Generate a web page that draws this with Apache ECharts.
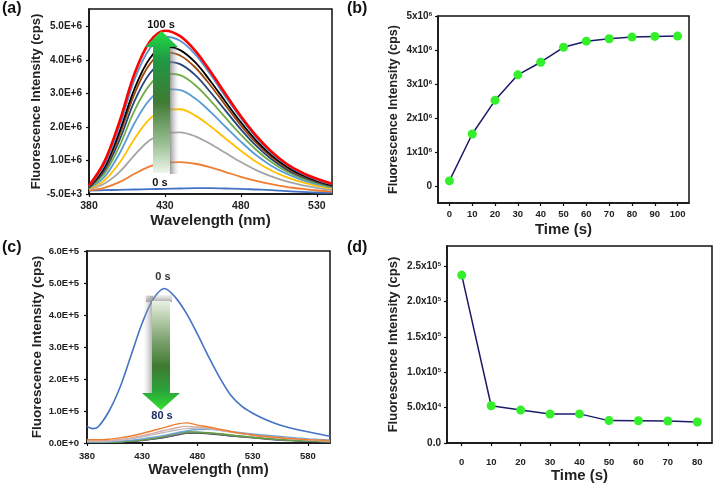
<!DOCTYPE html>
<html>
<head>
<meta charset="utf-8">
<script src="https://cdn.jsdelivr.net/npm/echarts@6/dist/echarts.min.js"></script>
<style>html,body{margin:0;padding:0;background:#fff}#c{width:715px;height:484px}</style>
</head>
<body>
<div id="c"></div>
<script>
// ---------- Panel (a): emission spectra, values in units of 1e6 cps ----------
const wlA = [380,390,400,410,420,430,440,450,460,470,480,490,500,510,520,530,540];
const a_0s   = [0.10,0.11,0.12,0.13,0.14,0.15,0.16,0.17,0.17,0.16,0.15,0.13,0.11,0.08,0.06,0.04,0.03];
const a_10s  = [0.10,0.18,0.35,0.60,0.82,0.93,0.95,0.90,0.79,0.65,0.51,0.39,0.29,0.21,0.15,0.10,0.07];
const a_20s  = [0.13,0.30,0.65,1.16,1.60,1.81,1.84,1.72,1.49,1.22,0.95,0.71,0.52,0.37,0.26,0.18,0.12];
const a_30s  = [0.15,0.40,0.92,1.65,2.24,2.52,2.53,2.34,2.02,1.65,1.29,0.96,0.70,0.50,0.35,0.24,0.16];
const a_40s  = [0.17,0.50,1.20,2.12,2.82,3.13,3.10,2.85,2.45,2.00,1.56,1.16,0.84,0.60,0.42,0.29,0.19];
const a_50s  = [0.18,0.60,1.42,2.50,3.26,3.60,3.55,3.25,2.79,2.27,1.77,1.32,0.95,0.67,0.47,0.32,0.21];
const a_60s  = [0.19,0.68,1.60,2.78,3.60,3.95,3.88,3.55,3.04,2.48,1.93,1.44,1.04,0.73,0.51,0.35,0.23];
const a_70s  = [0.20,0.74,1.75,3.00,3.88,4.23,4.14,3.78,3.24,2.64,2.05,1.53,1.11,0.78,0.54,0.37,0.25];
const a_80s  = [0.20,0.78,1.85,3.15,4.05,4.40,4.30,3.93,3.37,2.75,2.14,1.60,1.16,0.82,0.57,0.39,0.26];
const a_90s  = [0.22,0.85,2.00,3.42,4.35,4.70,4.58,4.17,3.57,2.90,2.26,1.69,1.23,0.87,0.61,0.42,0.28];
const a_100s = [0.25,0.95,2.15,3.60,4.55,4.88,4.72,4.28,3.66,2.98,2.32,1.74,1.27,0.90,0.64,0.45,0.30];
const aYTicks = [-0.005,1,2,3,4,5];
const aXTicks = [380,430,480,530];

// ---------- Panel (b): intensity vs time (cps) ----------
const timeB = [0,10,20,30,40,50,60,70,80,90,100];
const intensB = [150000,1530000,2520000,3270000,3640000,4080000,4260000,4330000,4380000,4400000,4410000];
const bYTicks = [0,1000000,2000000,3000000,4000000,5000000];
const bXTicks = [0,10,20,30,40,50,60,70,80,90,100];

// ---------- Panel (c): emission spectra, values in units of 1e5 cps ----------
const wlC = [380,385,390,400,410,420,430,440,450,460,470,480,490,500,510,520,530,540,550,560,570,580,590,600];
const c_0s  = [0.52,0.45,0.50,1.00,1.75,2.75,3.75,4.50,4.83,4.55,4.05,3.40,2.70,2.05,1.50,1.15,0.93,0.76,0.62,0.51,0.42,0.35,0.28,0.21];
const c_10s = [0.11,0.10,0.10,0.12,0.16,0.22,0.30,0.39,0.48,0.58,0.63,0.56,0.50,0.43,0.36,0.30,0.25,0.21,0.18,0.15,0.125,0.105,0.09,0.08];
const c_20s = [0.07,0.06,0.06,0.08,0.11,0.16,0.23,0.31,0.39,0.47,0.52,0.50,0.46,0.40,0.34,0.29,0.24,0.20,0.17,0.14,0.12,0.10,0.08,0.07];
const c_30s = [0.05,0.05,0.05,0.06,0.09,0.13,0.19,0.26,0.33,0.40,0.45,0.47,0.45,0.40,0.35,0.30,0.25,0.21,0.18,0.15,0.12,0.10,0.08,0.07];
const c_40s = [0.03,0.03,0.03,0.04,0.06,0.09,0.13,0.18,0.24,0.31,0.38,0.42,0.43,0.40,0.36,0.32,0.28,0.25,0.22,0.19,0.16,0.13,0.11,0.09];
const c_50s = [0.02,0.02,0.02,0.03,0.04,0.06,0.10,0.15,0.21,0.30,0.35,0.34,0.32,0.29,0.25,0.21,0.18,0.15,0.12,0.10,0.08,0.07,0.06,0.05];
const c_60s = [0.03,0.02,0.02,0.03,0.04,0.06,0.09,0.14,0.20,0.27,0.33,0.34,0.31,0.28,0.24,0.21,0.17,0.14,0.11,0.09,0.08,0.06,0.05,0.04];
const c_70s = [0.03,0.02,0.02,0.03,0.04,0.06,0.09,0.13,0.18,0.25,0.31,0.32,0.30,0.27,0.23,0.20,0.17,0.14,0.11,0.09,0.07,0.06,0.05,0.04];
const c_80s = [0.02,0.02,0.02,0.02,0.03,0.05,0.08,0.12,0.17,0.24,0.30,0.31,0.29,0.26,0.22,0.19,0.16,0.13,0.10,0.08,0.07,0.05,0.04,0.03];
const cYTicks = [0,1,2,3,4,5,6];
const cXTicks = [380,430,480,530,580];

// ---------- Panel (d): intensity vs time (cps) ----------
const timeD = [0,10,20,30,40,50,60,70,80];
const intensD = [237000,52700,46600,41000,41200,31700,31500,31200,29800];
const dYTicks = [0,50000,100000,150000,200000,250000];
const dXTicks = [0,10,20,30,40,50,60,70,80];

const FONT = 'Liberation Sans, Arial, sans-serif';
const pair = (xs, ys) => xs.map((x, i) => [x, ys[i]]);
function fmtE(v, unitExp) {
  const real = Math.round(v * Math.pow(10, unitExp));
  if (real === 0) return '0.0E+0';
  const ex = Math.floor(Math.log10(Math.abs(real)));
  const m = real / Math.pow(10, ex);
  return m.toFixed(1) + 'E' + (ex >= 0 ? '+' : '-') + Math.abs(ex);
}
const supRich = {
  m: {fontSize: 10, fontWeight: 'bold', color: '#222', fontFamily: FONT},
  s: {fontSize: 6, fontWeight: 'bold', color: '#222', fontFamily: FONT, verticalAlign: 'top'}
};
function fmtSupB(v) {
  if (v === 0) return '{m|0}';
  return '{m|' + (v / 1e6) + 'x10}{s|6}';
}
function fmtSupD(v) {
  if (v === 0) return '{m|0.0}';
  const ex = Math.floor(Math.log10(v) + 1e-9);
  return '{m|' + (v / Math.pow(10, ex)).toFixed(1) + 'x10}{s|' + ex + '}';
}

const gridBase = {show: true, borderColor: '#111', borderWidth: 1.5, backgroundColor: 'transparent'};
const axLine = {show: true, onZero: false, lineStyle: {color: '#111', width: 1.5}};
const nameStyleBig = {fontFamily: FONT, fontWeight: 'bold', color: '#222'};

function valueAxis(idx, opts) {
  return Object.assign({
    type: 'value', gridIndex: idx, splitLine: {show: false},
    axisLine: axLine,
    nameLocation: 'middle'
  }, opts);
}

const chart = echarts.init(document.getElementById('c'), null, {renderer: 'canvas'});

const aColors = ['#4472c4','#ed7d31','#a5a5a5','#ffc000','#5b9bd5','#70ad47','#264478','#9e480e','#000000','#5a8fd0','#ff0000'];
const aSets = [a_0s,a_10s,a_20s,a_30s,a_40s,a_50s,a_60s,a_70s,a_80s,a_90s,a_100s];
const cColors = ['#4472c4','#ed7d31','#d9aca4','#bdbdbd','#6fa6d8','#5f9e3c','#8a8a8a','#5a5a5a','#44546a'];
const cSets = [c_0s,c_10s,c_20s,c_30s,c_40s,c_50s,c_60s,c_70s,c_80s];

const series = [];
aSets.forEach((d, i) => series.push({
  type: 'line', xAxisIndex: 0, yAxisIndex: 0, data: pair(wlA, d), smooth: 0.35,
  showSymbol: false, lineStyle: {color: aColors[i], width: i === 10 ? 2.6 : 1.8}, z: 2 + i
}));
series.push({
  type: 'line', xAxisIndex: 1, yAxisIndex: 1, data: pair(timeB, intensB),
  symbol: 'circle', symbolSize: 9, lineStyle: {color: '#1b1b6b', width: 1.5},
  itemStyle: {color: '#33f02a', borderWidth: 0}, z: 5
});
cSets.forEach((d, i) => series.push({
  type: 'line', xAxisIndex: 2, yAxisIndex: 2, data: pair(wlC, d), smooth: 0.35,
  showSymbol: false, lineStyle: {color: cColors[i], width: i === 0 ? 1.6 : 1.4}, z: 12 - i
}));
series.push({
  type: 'line', xAxisIndex: 3, yAxisIndex: 3, data: pair(timeD, intensD),
  symbol: 'circle', symbolSize: 9, lineStyle: {color: '#1b1b6b', width: 1.5},
  itemStyle: {color: '#33f02a', borderWidth: 0}, z: 5
});

const tick = {show: true, length: 3, lineStyle: {color: '#111', width: 1.2}};

const arrowUpGrad = new echarts.graphic.LinearGradient(0, 0, 0, 1, [
  {offset: 0, color: '#22dd44'}, {offset: 0.2, color: '#1f9a45'},
  {offset: 0.5, color: '#3f7a33'}, {offset: 0.8, color: '#9cc196'}, {offset: 1, color: '#eef5ea'}
]);
const arrowDownGrad = new echarts.graphic.LinearGradient(0, 0, 0, 1, [
  {offset: 0, color: '#e8f1e2'}, {offset: 0.35, color: '#7fa472'},
  {offset: 0.6, color: '#3f7a30'}, {offset: 0.82, color: '#2aa33a'}, {offset: 1, color: '#33e033'}
]);

const option = {
  backgroundColor: '#fff',
  animation: false,
  grid: [
    Object.assign({left: 89, top: 9, width: 243, height: 185}, gridBase),
    Object.assign({left: 438, top: 16, width: 251, height: 187}, gridBase),
    Object.assign({left: 87, top: 251, width: 243, height: 192}, gridBase),
    Object.assign({left: 447, top: 246, width: 265, height: 198}, gridBase)
  ],
  xAxis: [
    valueAxis(0, {min: 380, max: 540, name: 'Wavelength (nm)', nameGap: 13,
      nameTextStyle: Object.assign({fontSize: 15}, nameStyleBig),
      axisTick: Object.assign({customValues: aXTicks}, tick),
      axisLabel: {customValues: aXTicks, margin: 7, fontSize: 10.5, fontWeight: 'bold', color: '#222', fontFamily: FONT}}),
    valueAxis(1, {min: -5, max: 105, name: 'Time (s)', nameGap: 19,
      nameTextStyle: Object.assign({fontSize: 15}, nameStyleBig),
      axisTick: Object.assign({customValues: bXTicks}, tick),
      axisLabel: {customValues: bXTicks, margin: 6, fontSize: 9.5, fontWeight: 'bold', color: '#222', fontFamily: FONT}}),
    valueAxis(2, {min: 380, max: 600, name: 'Wavelength (nm)', nameGap: 16,
      nameTextStyle: Object.assign({fontSize: 15}, nameStyleBig),
      axisTick: Object.assign({customValues: cXTicks}, tick),
      axisLabel: {customValues: cXTicks, margin: 8, fontSize: 9.5, fontWeight: 'bold', color: '#222', fontFamily: FONT}}),
    valueAxis(3, {min: -5, max: 85, name: 'Time (s)', nameGap: 22,
      nameTextStyle: Object.assign({fontSize: 15}, nameStyleBig),
      axisTick: Object.assign({customValues: dXTicks}, tick),
      axisLabel: {customValues: dXTicks, margin: 14, fontSize: 9.5, fontWeight: 'bold', color: '#222', fontFamily: FONT}})
  ],
  yAxis: [
    valueAxis(0, {min: -0.005, max: 5.53, name: 'Fluorescence Intensity (cps)', nameGap: 44,
      nameTextStyle: Object.assign({fontSize: 13}, nameStyleBig),
      axisTick: Object.assign({customValues: aYTicks}, tick),
      axisLabel: {customValues: aYTicks, margin: 7, fontSize: 10, fontWeight: 'bold', color: '#222', fontFamily: FONT,
        formatter: v => fmtE(v, 6)}}),
    valueAxis(1, {min: -500000, max: 5000000, name: 'Fluorescence Intensity (cps)', nameGap: 38,
      nameTextStyle: Object.assign({fontSize: 12.5}, nameStyleBig),
      axisTick: Object.assign({customValues: bYTicks}, tick),
      axisLabel: {customValues: bYTicks, margin: 6, formatter: fmtSupB, rich: supRich}}),
    valueAxis(2, {min: 0, max: 6, name: 'Fluorescence Intensity (cps)', nameGap: 42,
      nameTextStyle: Object.assign({fontSize: 13.5}, nameStyleBig),
      axisTick: Object.assign({customValues: cYTicks}, tick),
      axisLabel: {customValues: cYTicks, margin: 8, fontSize: 9.5, fontWeight: 'bold', color: '#222', fontFamily: FONT,
        formatter: v => fmtE(v, 5)}}),
    valueAxis(3, {min: 0, max: 278000, name: 'Fluorescence Intensity (cps)', nameGap: 47,
      nameTextStyle: Object.assign({fontSize: 13}, nameStyleBig),
      axisTick: Object.assign({customValues: dYTicks}, tick),
      axisLabel: {customValues: dYTicks, margin: 6, formatter: fmtSupD, rich: supRich}})
  ],
  series: series,
  graphic: [
    // panel letters
    {type: 'text', left: 2, top: 1, z: 100, style: {text: '(a)', font: 'bold 16px ' + FONT, fill: '#111'}},
    {type: 'text', left: 347, top: 1, z: 100, style: {text: '(b)', font: 'bold 16px ' + FONT, fill: '#111'}},
    {type: 'text', left: 2, top: 240, z: 100, style: {text: '(c)', font: 'bold 16px ' + FONT, fill: '#111'}},
    {type: 'text', left: 347, top: 240, z: 100, style: {text: '(d)', font: 'bold 16px ' + FONT, fill: '#111'}},
    // arrow (a) shadow + arrow
    {type: 'rect', z: 99, shape: {x: 170, y: 48, width: 9, height: 126},
      style: {fill: new echarts.graphic.LinearGradient(0, 0, 1, 0, [{offset: 0, color: 'rgba(120,120,120,0.75)'}, {offset: 1, color: 'rgba(200,200,200,0)'}])}},
    {type: 'polygon', z: 100, shape: {points: [[153,173],[153,47],[145,47],[161.5,31],[178,47],[170,47],[170,173]]},
      style: {fill: arrowUpGrad}},
    {type: 'text', z: 101, x: 161, y: 25, style: {text: '100 s', font: 'bold 11px ' + FONT, fill: '#111', align: 'center', verticalAlign: 'middle'}},
    {type: 'text', z: 101, x: 160, y: 183, style: {text: '0 s', font: 'bold 11px ' + FONT, fill: '#111', align: 'center', verticalAlign: 'middle'}},
    // arrow (c) shadow + arrow
    {type: 'rect', z: 99, shape: {x: 143, y: 296, width: 10, height: 98},
      style: {fill: new echarts.graphic.LinearGradient(0, 0, 1, 0, [{offset: 0, color: 'rgba(200,200,200,0)'}, {offset: 1, color: 'rgba(130,130,130,0.7)'}])}},
    {type: 'rect', z: 99, shape: {x: 146, y: 295, width: 26, height: 7},
      style: {fill: new echarts.graphic.LinearGradient(0, 0, 0, 1, [{offset: 0, color: 'rgba(180,180,180,0.2)'}, {offset: 1, color: 'rgba(130,130,130,0.7)'}])}},
    {type: 'polygon', z: 100, shape: {points: [[152,301],[170,301],[170,393],[180,393],[161,410],[142,393],[152,393]]},
      style: {fill: arrowDownGrad}},
    {type: 'text', z: 101, x: 163, y: 277, style: {text: '0 s', font: 'bold 11px ' + FONT, fill: '#333', align: 'center', verticalAlign: 'middle'}},
    {type: 'text', z: 101, x: 162, y: 416, style: {text: '80 s', font: 'bold 11px ' + FONT, fill: '#1f2860', align: 'center', verticalAlign: 'middle'}}
  ]
};
chart.setOption(option);
</script>
</body>
</html>
